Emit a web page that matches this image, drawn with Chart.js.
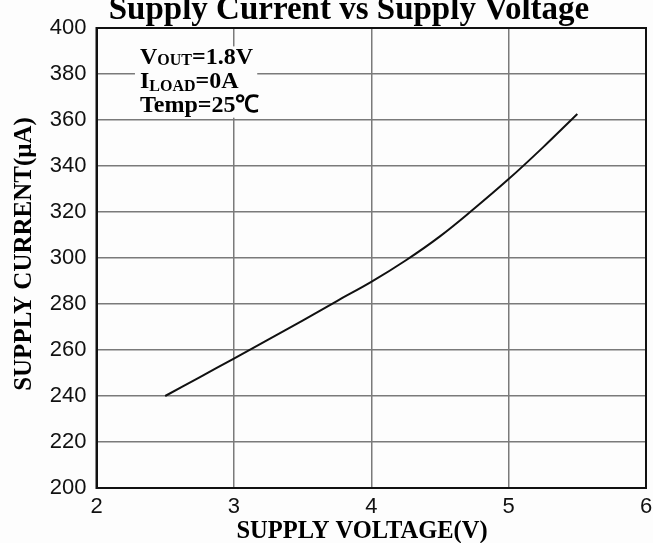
<!DOCTYPE html>
<html>
<head>
<meta charset="utf-8">
<script src="https://cdn.jsdelivr.net/npm/chart.js@4.4.1/dist/chart.umd.min.js"></script>
<style>
  html, body { margin: 0; padding: 0; background: #fdfdfd; }
  #wrap { width: 653px; height: 543px; position: relative; }
</style>
</head>
<body>
<div id="wrap"><canvas id="c" width="653" height="543"></canvas></div>
<script>
// ---- data ----
const chartTitle = 'Supply Current vs Supply Voltage';
const xAxisTitle = 'SUPPLY VOLTAGE(V)';
const yAxisTitle = 'SUPPLY CURRENT(\u03BCA)';
const supplyVoltage = [2.5, 2.75, 3.0, 3.25, 3.5, 3.75, 4.0, 4.25, 4.5, 4.75, 5.0, 5.25, 5.5];
const supplyCurrent = [240, 248.1, 256.3, 264.5, 272.8, 281.3, 289.6, 298.9, 309.4, 321.5, 334.3, 348.1, 362.6];
const xTicks = [2, 3, 4, 5, 6];
const yTicks = [200, 220, 240, 260, 280, 300, 320, 340, 360, 380, 400];
const conditions = [
  { main: 'V', sub: 'OUT', rest: '=1.8V' },
  { main: 'I', sub: 'LOAD', rest: '=0A' },
  { main: 'Temp=25\u2103', sub: '', rest: '' }
];

const points = supplyVoltage.map((v, i) => ({ x: v, y: supplyCurrent[i] }));

const decor = {
  id: 'decor',
  afterDraw(chart) {
    const ctx = chart.ctx;
    const xs = chart.scales.x, ys = chart.scales.y;
    ctx.save();
    ctx.fillStyle = '#000';
    // chart title
    ctx.font = 'bold 33px "Liberation Serif"';
    ctx.textAlign = 'center';
    ctx.textBaseline = 'alphabetic';
    ctx.fillText(chartTitle, 349, 19);
    // x axis title
    ctx.font = 'bold 24.5px "Liberation Serif"';
    ctx.fillText(xAxisTitle, 362, 538);
    // y axis title
    ctx.save();
    ctx.translate(31, 254);
    ctx.rotate(-Math.PI / 2);
    ctx.font = 'bold 25px "Liberation Serif"';
    ctx.fillText(yAxisTitle, 0, 0);
    ctx.restore();
    // conditions box
    const bx = xs.getPixelForValue(2.28), bx2 = xs.getPixelForValue(3.17);
    const by = ys.getPixelForValue(392), by2 = ys.getPixelForValue(361);
    ctx.fillStyle = '#fdfdfd';
    ctx.fillRect(bx, by, bx2 - bx, by2 - by);
    ctx.fillStyle = '#000';
    ctx.textAlign = 'left';
    const baselines = [64, 88, 112];
    conditions.forEach((c, i) => {
      let x = 140;
      ctx.font = 'bold 24px "Liberation Serif"';
      ctx.fillText(c.main, x, baselines[i]);
      x += ctx.measureText(c.main).width;
      if (c.sub) {
        ctx.font = 'bold 16px "Liberation Serif"';
        ctx.fillText(c.sub, x, baselines[i] + (i === 1 ? 3 : 1));
        x += ctx.measureText(c.sub).width;
      }
      if (c.rest) {
        ctx.font = 'bold 24px "Liberation Serif"';
        ctx.fillText(c.rest, x, baselines[i]);
      }
    });
    ctx.restore();
  }
};

new Chart(document.getElementById('c'), {
  type: 'scatter',
  data: {
    datasets: [{
      data: points,
      showLine: true,
      borderColor: '#111',
      borderWidth: 2,
      pointRadius: 0,
      tension: 0.4,
      fill: false
    }]
  },
  options: {
    responsive: false,
    animation: false,
    devicePixelRatio: 1,
    layout: { padding: { top: 28, right: 7, bottom: 0, left: 0 } },
    plugins: { legend: { display: false }, tooltip: { enabled: false }, title: { display: false } },
    scales: {
      x: {
        type: 'linear',
        min: 2, max: 6,
        afterFit(s) { s.height = 55; s.paddingLeft = 0; s.paddingRight = 0; },
        afterBuildTicks(s) { s.ticks = xTicks.map(v => ({ value: v })); },
        ticks: { color: '#111', font: { family: '"Liberation Sans"', size: 22 }, padding: 6, maxRotation: 0 },
        grid: { color: '#7a7a7a', lineWidth: 1.5, drawTicks: false },
        border: { color: '#111', width: 2 }
      },
      y: {
        type: 'linear',
        min: 200, max: 400,
        afterFit(s) { s.width = 96.5; s.paddingTop = 0; s.paddingBottom = 0; },
        afterBuildTicks(s) { s.ticks = yTicks.map(v => ({ value: v })); },
        ticks: { color: '#111', font: { family: '"Liberation Sans"', size: 22 }, padding: 10 },
        grid: { color: '#7a7a7a', lineWidth: 1.5, drawTicks: false },
        border: { color: '#111', width: 2 }
      }
    }
  },
  plugins: [decor, {
    id: 'frame',
    afterDatasetsDraw(chart) {
      const { ctx, chartArea: a } = chart;
      ctx.save();
      ctx.strokeStyle = '#111';
      ctx.lineWidth = 2;
      ctx.strokeRect(a.left, a.top, a.right - a.left, a.bottom - a.top);
      ctx.restore();
    }
  }]
});
</script>
</body>
</html>
